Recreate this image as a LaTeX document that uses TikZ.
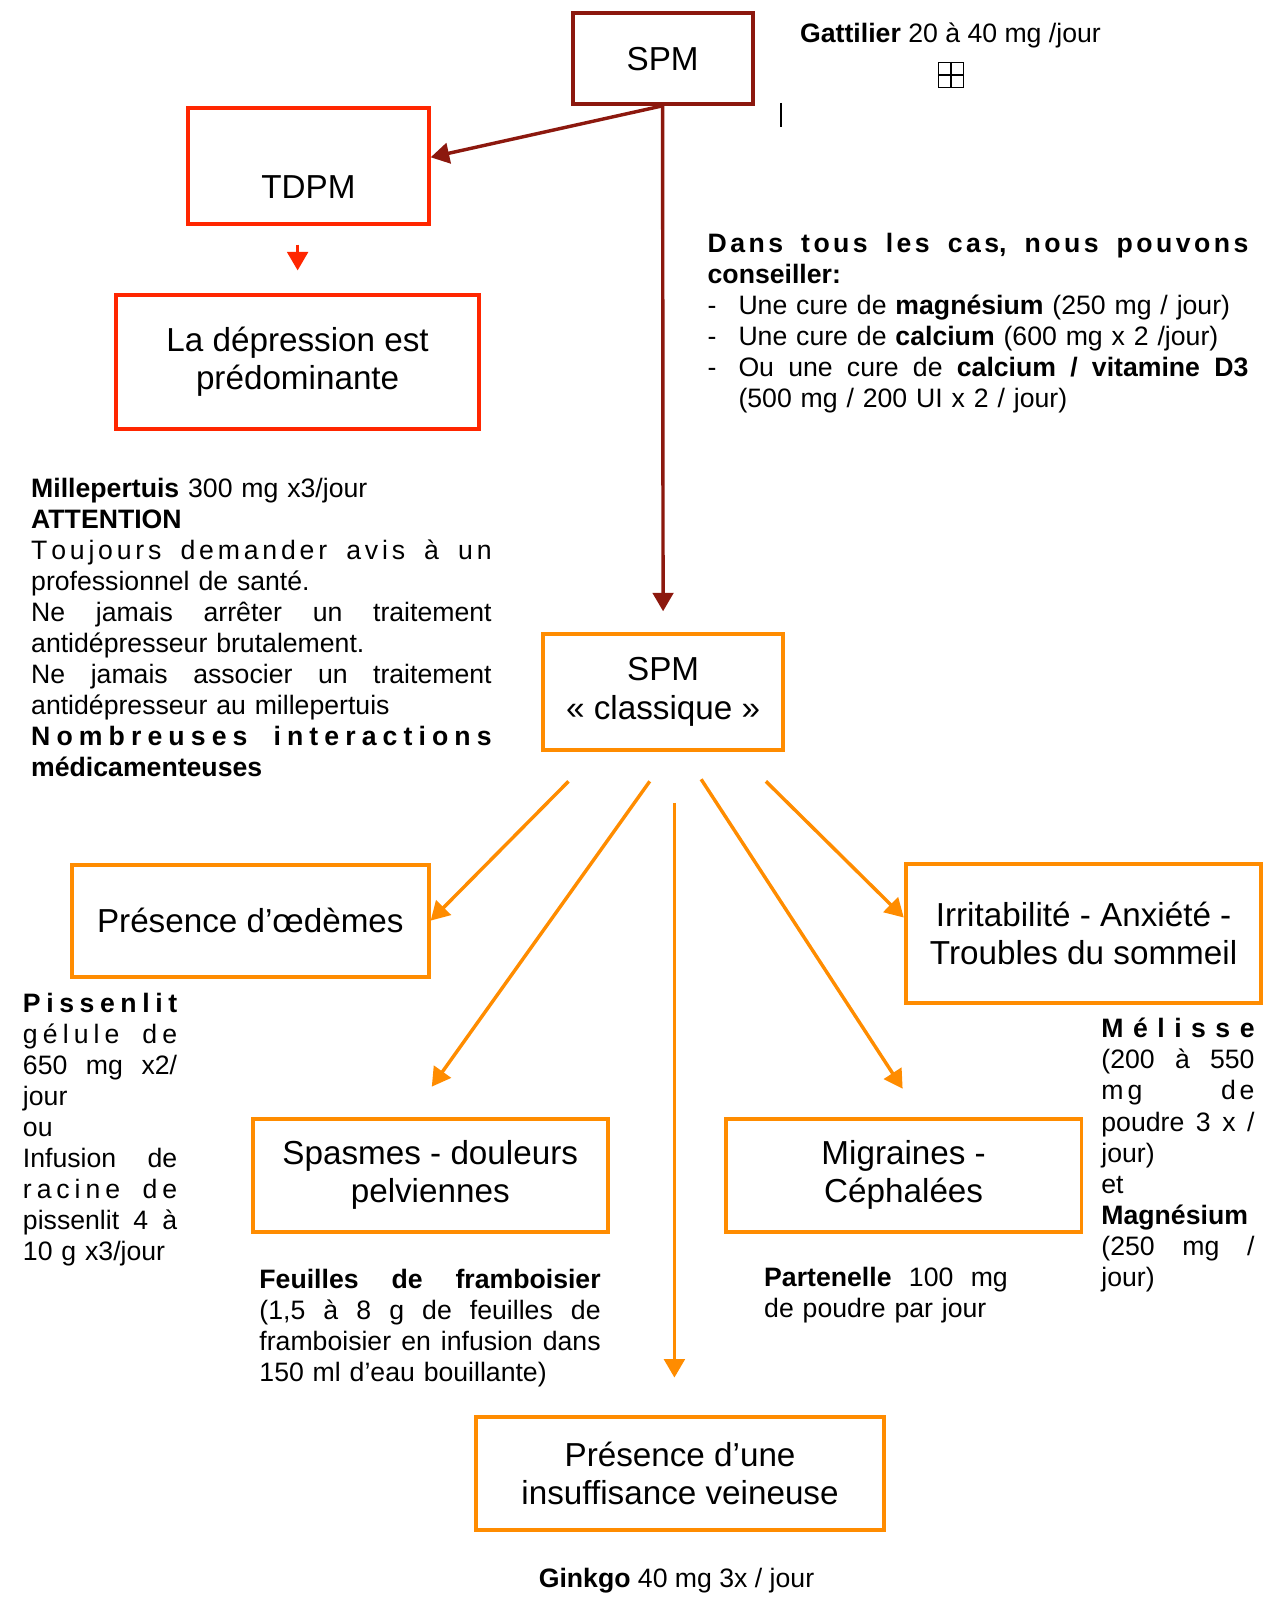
\documentclass[tikz,border=0pt]{standalone}
\usepackage{fontspec}
\setmainfont{Liberation Sans}
\usetikzlibrary{arrows.meta}

\definecolor{spmred}{RGB}{140,24,14}
\definecolor{tdpmred}{RGB}{255,38,0}
\definecolor{spmorange}{RGB}{255,140,0}

% lignes justifiees
\newcommand\just[2][\hsize]{\makebox[#1][s]{\spaceskip=\fontdimen2\font plus 1fil\relax #2}}
\newcommand\spread[1]{\makebox[\hsize][s]{\spaceskip=0pt plus 1fil\relax #1}}
\newcommand\wg{\hspace{0.15cm plus 3fil}}
\newcommand\tiret{\makebox[0.6cm][l]{-}}

\begin{document}
\begin{tikzpicture}[x=0.02cm, y=-0.02cm,
  box/.style={draw, line width=2.2pt, rectangle, align=center, inner sep=2pt, font=\fontsize{18.4}{21.2}\selectfont},
  spmbox/.style={box, draw=spmred},
  redbox/.style={box, draw=tdpmred},
  orangebox/.style={box, draw=spmorange},
  txt/.style={inner sep=0pt, font=\fontsize{14.75}{17.2}\selectfont},
  note/.style={txt, anchor=north west, align=left},
  fleche/.style={-{Triangle[width=0.4cm,length=0.36cm]}, line width=1.9pt}]
\useasboundingbox (0,0) rectangle (1238,1568);

% boites
\node[spmbox, minimum width=3.5cm, minimum height=1.76cm] (spm) at (644.5,57) {SPM};
\node[redbox, minimum width=4.68cm, minimum height=2.26cm] (tdpm) at (300,161.5) {\strut\\TDPM};
\node[redbox, minimum width=7.06cm, minimum height=2.6cm] (dep) at (289.5,352) {La dépression est\\prédominante};
\node[orangebox, minimum width=4.68cm, minimum height=2.26cm] (classique) at (645,673) {SPM\\« classique »};
\node[orangebox, minimum width=6.94cm, minimum height=2.18cm] (oedemes) at (243.5,895.5) {Présence d’œdèmes};
\node[orangebox, minimum width=6.92cm, minimum height=2.72cm] (irrit) at (1054,908) {Irritabilité - Anxiété -\\Troubles du sommeil};
\node[orangebox, minimum width=6.9cm, minimum height=2.2cm] (spasmes) at (418.5,1143) {Spasmes - douleurs\\pelviennes};
\node[orangebox, minimum width=6.92cm, minimum height=2.2cm] (migraines) at (879,1143) {Migraines -\\Céphalées};
\node[orangebox, minimum width=7.94cm, minimum height=2.2cm] (veine) at (661.5,1433) {Présence d’une\\insuffisance veineuse};

% textes
\node[txt, anchor=base west] (gattilier) at (778,41) {\textbf{Gattilier} 20 à 40 mg /jour};
\node[draw, line width=0.8pt, minimum size=0.48cm, inner sep=0pt] (ancre) at (925,73) {};
\draw[line width=0.8pt] (ancre.north) -- (ancre.south) (ancre.west) -- (ancre.east);
\draw[line width=1pt] (760,100) -- (760,124);

\node[note, text width=10.52cm] (conseil) at (688,224) {\strut\spread{\bfseries D a n s\wg t o u s\wg l e s\wg c a s,\wg n o u s\wg p o u v o n s}\\
\textbf{conseiller:}\\
\tiret Une cure de \textbf{magnésium} (250 mg / jour)\\
\tiret Une cure de \textbf{calcium} (600 mg x 2 /jour)\\
\tiret\just[9.92cm]{Ou une cure de \textbf{calcium / vitamine D3}}\\
\hspace*{0.6cm}(500 mg / 200 UI x 2 / jour)};

\node[note, text width=8.96cm] (mille) at (30,462) {\strut\textbf{Millepertuis} 300 mg x3/jour\\
\textbf{ATTENTION}\\
\spread{T o u j o u r s\wg d e m a n d e r\wg a v i s\wg à\wg u n}\\
professionnel de santé.\\
\just{Ne jamais arrêter un traitement}\\
antidépresseur brutalement.\\
\just{Ne jamais associer un traitement}\\
antidépresseur au millepertuis\\
\spread{\bfseries N o m b r e u s e s\wg i n t e r a c t i o n s}\\
\textbf{médicamenteuses}};

\node[note, text width=3cm] (pissenlit) at (22,963) {\strut\spread{\bfseries P i s s e n l i t}\\
\spread{g é l u l e\wg d e}\\
\just{650 mg x2/}\\
jour\\
ou\\
\just{Infusion de}\\
\spread{r a c i n e\wg d e}\\
\just{pissenlit 4 à}\\
10 g x3/jour};

\node[note, text width=2.98cm] (melisse) at (1071,988) {\strut\spread{\bfseries M é l i s s e}\\
\just{(200 à 550}\\
\spread{m g\hspace{0pt plus 20fil}d e}\\
\just{poudre 3 x /}\\
jour)\\
et\\
\textbf{Magnésium}\\
\just{(250 mg /}\\
jour)};

\node[note, text width=6.64cm] (feuilles) at (252,1232) {\strut\just{\textbf{Feuilles de framboisier}}\\
\just{(1,5 à 8 g de feuilles de}\\
\just{framboisier en infusion dans}\\
150 ml d’eau bouillante)};

\node[note, text width=4.74cm] (partenelle) at (743,1230) {\strut\just{\textbf{Partenelle} 100 mg}\\
de poudre par jour};

\node[txt, anchor=base] (ginkgo) at (658,1544) {\textbf{Ginkgo} 40 mg 3x / jour};

% fleches
\draw[fleche, spmred] (spm.south) -- ([yshift=0.17cm]tdpm.east);
\draw[fleche, spmred, shorten >=0.4cm] (spm.south) -- (classique.north);
\draw[fleche, tdpmred, shorten <=0.36cm, shorten >=0.44cm] (dep.north |- tdpm.south) -- (dep.north);

\coordinate (c1) at (553,760);
\coordinate (c2) at (632,760);
\coordinate (c3) at (656,781);
\coordinate (c4) at (682,758);
\coordinate (c5) at (745,760);
\coordinate (t2) at (420,1057);
\coordinate (t3) at (656,1340);
\coordinate (t4) at (878,1059);
\draw[fleche, spmorange] (c1) -- (oedemes.east);
\draw[fleche, spmorange] (c2) -- (t2);
\draw[fleche, spmorange] (c3) -- (t3);
\draw[fleche, spmorange] (c4) -- (t4);
\draw[fleche, spmorange] (c5) -- ([yshift=0.31cm]irrit.west);
\end{tikzpicture}
\end{document}
